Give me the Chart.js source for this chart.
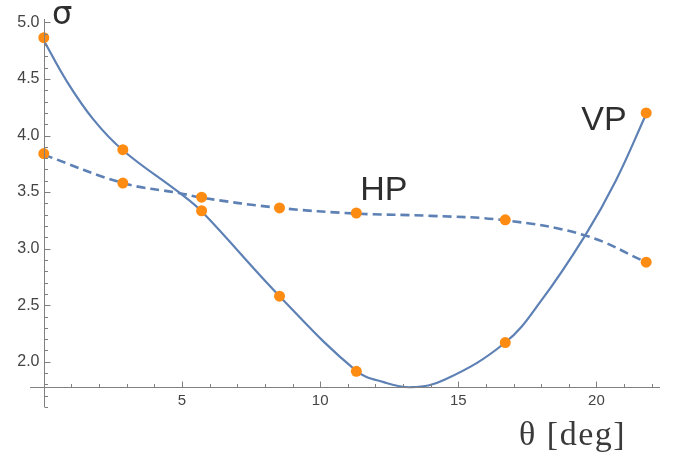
<!DOCTYPE html>
<html>
<head>
<meta charset="utf-8">
<script src="https://cdn.jsdelivr.net/npm/chart.js@4.4.1/dist/chart.umd.min.js"></script>
<style>
  html, body { margin: 0; padding: 0; background: #ffffff; }
  #wrap { width: 673px; height: 459px; position: relative; }
</style>
</head>
<body>
<div id="wrap"><canvas id="c"></canvas></div>
<script>
// Measurement angles (deg) and measured sigma values
const angles     = [0, 2.86, 5.71, 8.53, 11.31, 16.70, 21.80];
const vpMeasured = [4.865, 3.875, 3.335, 2.58, 1.915, 2.17, 4.20];
const hpMeasured = [3.84, 3.58, 3.455, 3.36, 3.315, 3.255, 2.88];

// Fitted curves
const vpCurveX = [0, 0.83, 1.8, 2.86, 4.93, 5.71, 8.53, 11.31, 12.3, 13.3, 14.5, 16.70, 18.0, 19.6, 20.7, 21.80];
const vpCurveY = [4.84, 4.48, 4.14, 3.87, 3.49, 3.33, 2.58, 1.92, 1.82, 1.775, 1.84, 2.17, 2.54, 3.12, 3.60, 4.19];
const hpCurveX = [0, 2.86, 4.93, 5.71, 8.53, 11.31, 14.0, 16.70, 19.6, 21.80];
const hpCurveY = [3.83, 3.58, 3.49, 3.45, 3.36, 3.31, 3.29, 3.25, 3.116, 2.88];

// Axis ticks
const xMajorTicks = [5, 10, 15, 20];
const xMinorTicks = [1,2,3,4,6,7,8,9,11,12,13,14,16,17,18,19,21,22];
const yMajorTicks = [2.0, 2.5, 3.0, 3.5, 4.0, 4.5, 5.0];
const yMinorTicks = [1.6,1.7,1.8,1.9,2.1,2.2,2.3,2.4,2.6,2.7,2.8,2.9,3.1,3.2,3.3,3.4,3.6,3.7,3.8,3.9,4.1,4.2,4.3,4.4,4.6,4.7,4.8,4.9];

// Annotation texts
const yAxisTitle = 'σ';
const xAxisTitle = 'θ [deg]';
const hpLabel = 'HP';
const vpLabel = 'VP';

const X_MIN = -0.5, X_MAX = 22.3, Y_MIN = 1.6, Y_MAX = 5.03, X_AXIS_AT = 1.773;

const toPts = (xs, ys) => xs.map((x, i) => ({x: x, y: ys[i]}));

const BLUE = '#5e81b5';
const ORANGE = '#ff8c12';

const axesPlugin = {
  id: 'mmaAxes',
  afterDatasetsDraw(chart) {
    const ctx = chart.ctx;
    const xs = chart.scales.x, ys = chart.scales.y;
    const px = v => xs.getPixelForValue(v);
    const py = v => ys.getPixelForValue(v);
    const ax = Math.round(py(X_AXIS_AT)) + 0.5;
    const ay = Math.round(px(0)) + 0.5;
    ctx.save();
    ctx.strokeStyle = '#808080';
    ctx.lineWidth = 1;
    ctx.beginPath();
    ctx.moveTo(px(X_MIN), ax); ctx.lineTo(px(X_MAX), ax);
    ctx.moveTo(ay, py(Y_MIN)); ctx.lineTo(ay, py(Y_MAX));
    xMajorTicks.forEach(v => { const p = Math.round(px(v)) + 0.5; ctx.moveTo(p, ax); ctx.lineTo(p, ax - 6); });
    xMinorTicks.forEach(v => { const p = Math.round(px(v)) + 0.5; ctx.moveTo(p, ax); ctx.lineTo(p, ax - 3.5); });
    yMajorTicks.forEach(v => { const p = Math.round(py(v)) + 0.5; ctx.moveTo(ay, p); ctx.lineTo(ay + 6, p); });
    yMinorTicks.forEach(v => { const p = Math.round(py(v)) + 0.5; ctx.moveTo(ay, p); ctx.lineTo(ay + 3.5, p); });
    ctx.stroke();

    ctx.fillStyle = '#444444';
    ctx.font = '15px "Liberation Sans", Arial, sans-serif';
    ctx.textAlign = 'center';
    ctx.textBaseline = 'middle';
    xMajorTicks.forEach(v => ctx.fillText(String(v), px(v), ax + 13));
    ctx.font = '16px "Liberation Sans", Arial, sans-serif';
    ctx.textAlign = 'right';
    yMajorTicks.forEach(v => ctx.fillText(v.toFixed(1), ay - 5, py(v)));

    ctx.fillStyle = '#2e2e2e';
    ctx.textAlign = 'left';
    ctx.textBaseline = 'alphabetic';
    ctx.font = '32px "DejaVu Sans", sans-serif';
    ctx.fillText(yAxisTitle, px(0.3), py(4.99));
    ctx.font = '34px "Liberation Sans", Arial, sans-serif';
    ctx.fillText(hpLabel, px(11.45), py(3.43));
    ctx.fillText(vpLabel, px(19.45), py(4.05));
    ctx.fillStyle = '#3a3a3a';
    ctx.font = '34px "Liberation Serif", "Times New Roman", serif';
    if ('letterSpacing' in ctx) ctx.letterSpacing = '1.5px';
    ctx.fillText(xAxisTitle, px(17.2), py(1.265));
    ctx.restore();
  }
};

new Chart(document.getElementById('c'), {
  type: 'scatter',
  data: {
    datasets: [
      { label: 'VP measured', data: toPts(angles, vpMeasured), showLine: false,
        pointRadius: 5.5, pointBackgroundColor: ORANGE, pointBorderWidth: 0, order: 0 },
      { label: 'HP measured', data: toPts(angles, hpMeasured), showLine: false,
        pointRadius: 5.5, pointBackgroundColor: ORANGE, pointBorderWidth: 0, order: 0 },
      { label: 'VP fit', data: toPts(vpCurveX, vpCurveY), showLine: true, pointRadius: 0,
        borderColor: BLUE, borderWidth: 2.2, tension: 0.4, order: 2 },
      { label: 'HP fit', data: toPts(hpCurveX, hpCurveY), showLine: true, pointRadius: 0,
        borderColor: BLUE, borderWidth: 2.6, borderDash: [9, 5], tension: 0.4, order: 1 }
    ]
  },
  options: {
    responsive: true,
    maintainAspectRatio: false,
    animation: false,
    devicePixelRatio: 1,
    layout: { padding: { left: 30, right: 13, top: 19, bottom: 52 } },
    plugins: { legend: { display: false }, tooltip: { enabled: false } },
    scales: {
      x: { type: 'linear', min: X_MIN, max: X_MAX, display: false },
      y: { type: 'linear', min: Y_MIN, max: Y_MAX, display: false }
    }
  },
  plugins: [axesPlugin]
});
</script>
</body>
</html>
